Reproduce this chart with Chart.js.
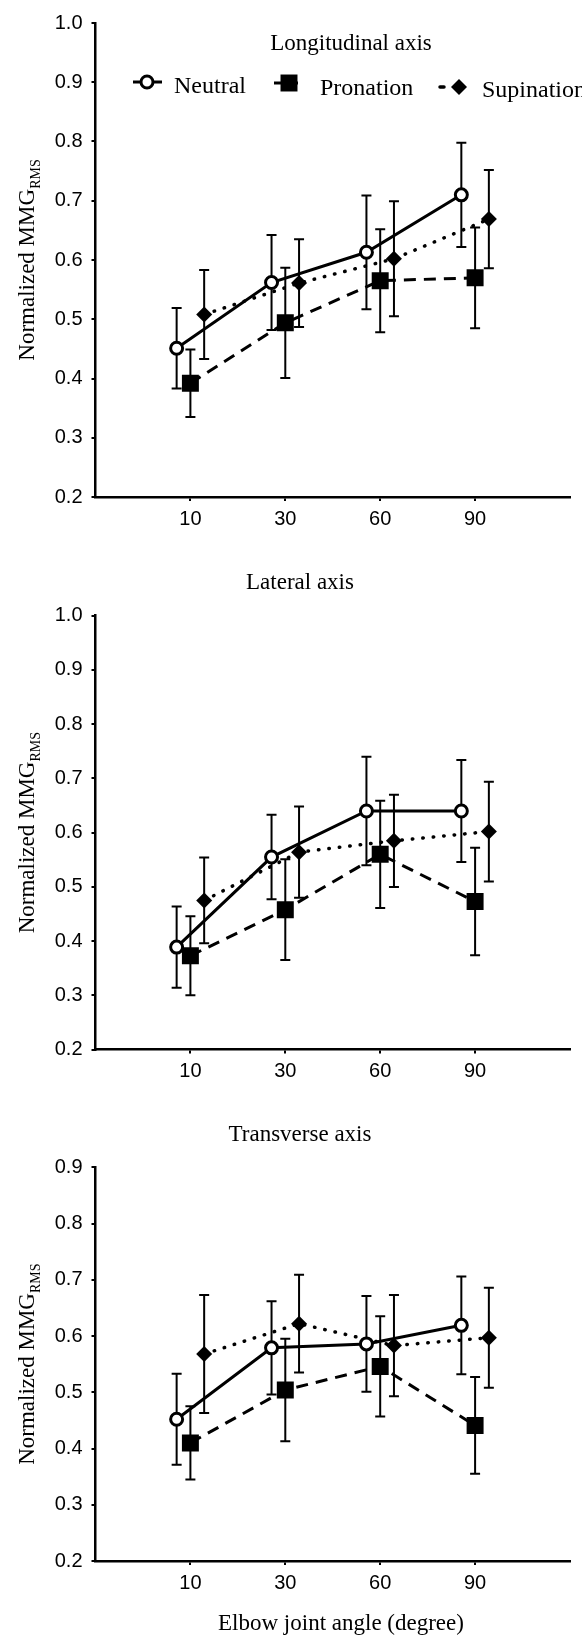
<!DOCTYPE html>
<html>
<head>
<meta charset="utf-8">
<script src="https://cdn.jsdelivr.net/npm/chart.js@4.4.0/dist/chart.umd.min.js"></script>
<style>
  html, body { margin: 0; padding: 0; background: #fff; }
  #wrap { position: relative; width: 582px; height: 1641px; overflow: hidden; }
  canvas { position: absolute; left: 0; }
</style>
</head>
<body>
<div id="wrap">
  <canvas id="c1" width="582" height="535" style="top:0"></canvas>
  <canvas id="c2" width="582" height="555" style="top:535px"></canvas>
  <canvas id="c3" width="582" height="551" style="top:1090px"></canvas>
</div>
<script>
// elbow angles (x categories) and y tick labels
const angles = ['10', '30', '60', '90'];
const yTicksFull = [0.2, 0.3, 0.4, 0.5, 0.6, 0.7, 0.8, 0.9, 1.0];
const yTicksShort = [0.2, 0.3, 0.4, 0.5, 0.6, 0.7, 0.8, 0.9];

// Longitudinal axis: means and SD
const longNeutral = [0.451, 0.562, 0.613, 0.710];
const longNeutralSd = [0.068, 0.080, 0.096, 0.088];
const longPronation = [0.392, 0.494, 0.565, 0.570];
const longPronationSd = [0.057, 0.093, 0.087, 0.085];
const longSupination = [0.508, 0.561, 0.602, 0.669];
const longSupinationSd = [0.075, 0.074, 0.097, 0.083];

// Lateral axis
const latNeutral = [0.389, 0.555, 0.640, 0.640];
const latNeutralSd = [0.075, 0.078, 0.100, 0.094];
const latPronation = [0.373, 0.458, 0.560, 0.473];
const latPronationSd = [0.073, 0.093, 0.099, 0.099];
const latSupination = [0.475, 0.564, 0.585, 0.602];
const latSupinationSd = [0.079, 0.084, 0.085, 0.092];

// Transverse axis
const transNeutral = [0.452, 0.579, 0.586, 0.619];
const transNeutralSd = [0.081, 0.083, 0.085, 0.087];
const transPronation = [0.410, 0.504, 0.546, 0.441];
const transPronationSd = [0.065, 0.091, 0.089, 0.086];
const transSupination = [0.568, 0.622, 0.583, 0.597];
const transSupinationSd = [0.105, 0.087, 0.090, 0.089];

const SANS = '"Liberation Sans", Arial, sans-serif';
const SERIF = '"Liberation Serif", "Times New Roman", serif';

// small sideways shift so the three groups don't overlap
const shift = { neutral: -0.145, pronation: 0, supination: 0.145 };

const styles = {
  neutral: {
    label: 'Neutral', borderColor: '#000', borderWidth: 3,
    pointStyle: 'circle', pointRadius: 6, pointBorderWidth: 3,
    pointBackgroundColor: '#fff', pointBorderColor: '#000'
  },
  pronation: {
    label: 'Pronation', borderColor: '#000', borderWidth: 3, borderDash: [12, 8],
    pointStyle: 'rect', pointRadius: 12, pointBorderWidth: 0,
    pointBackgroundColor: '#000', pointBorderColor: '#000'
  },
  supination: {
    label: 'Supination', borderColor: '#000', borderWidth: 3.5, borderDash: [0.5, 10],
    borderCapStyle: 'round',
    pointStyle: 'rectRot', pointRadius: 8, pointBorderWidth: 0,
    pointBackgroundColor: '#000', pointBorderColor: '#000'
  }
};

function series(key, means, sd) {
  return Object.assign({}, styles[key], {
    data: means.map((m, i) => ({ x: i + 1 + shift[key], y: m })),
    sd: sd,
    fill: false,
    tension: 0
  });
}

// vertical SD bars with caps, drawn under the lines and markers
const errorBars = {
  id: 'errorBars',
  beforeDatasetsDraw(chart) {
    const { ctx, scales: { x, y } } = chart;
    ctx.save();
    ctx.strokeStyle = '#000';
    ctx.lineWidth = 2;
    chart.data.datasets.forEach(ds => {
      ds.data.forEach((p, i) => {
        const px = x.getPixelForValue(p.x);
        const top = y.getPixelForValue(p.y + ds.sd[i]);
        const bot = y.getPixelForValue(p.y - ds.sd[i]);
        ctx.beginPath();
        ctx.moveTo(px, top); ctx.lineTo(px, bot);
        ctx.moveTo(px - 5, top); ctx.lineTo(px + 5, top);
        ctx.moveTo(px - 5, bot); ctx.lineTo(px + 5, bot);
        ctx.stroke();
      });
    });
    ctx.restore();
  }
};

// panel title, y label with subscript, legend and x title
const panelText = {
  id: 'panelText',
  afterDraw(chart, args, opts) {
    const { ctx, chartArea } = chart;
    ctx.save();
    ctx.fillStyle = '#000';
    ctx.textBaseline = 'alphabetic';

    (opts.texts || []).forEach(t => {
      ctx.font = t.size + 'px ' + SERIF;
      ctx.textAlign = t.align || 'center';
      ctx.fillText(t.text, t.x, t.y);
    });

    // Normalized MMG_RMS
    const main = 'Normalized MMG', sub = 'RMS';
    ctx.font = '23px ' + SERIF;
    const wMain = ctx.measureText(main).width;
    ctx.font = '14px ' + SERIF;
    const wSub = ctx.measureText(sub).width;
    ctx.save();
    ctx.translate(34, (chartArea.top + chartArea.bottom) / 2);
    ctx.rotate(-Math.PI / 2);
    ctx.textAlign = 'left';
    const start = -(wMain + wSub) / 2;
    ctx.font = '23px ' + SERIF;
    ctx.fillText(main, start, 0);
    ctx.font = '14px ' + SERIF;
    ctx.fillText(sub, start + wMain, 6);
    ctx.restore();

    if (opts.legend) {
      const drawPoint = Chart.helpers.drawPoint;
      opts.legend.forEach(item => {
        const st = styles[item.key];
        ctx.save();
        ctx.strokeStyle = '#000';
        ctx.lineWidth = st.borderWidth;
        ctx.lineCap = st.borderCapStyle || 'butt';
        ctx.setLineDash(item.dash || []);
        ctx.beginPath();
        ctx.moveTo(item.x0, item.my);
        ctx.lineTo(item.x1, item.my);
        ctx.stroke();
        ctx.setLineDash([]);
        ctx.fillStyle = st.pointBackgroundColor;
        ctx.strokeStyle = st.pointBorderColor;
        ctx.lineWidth = st.pointBorderWidth;
        drawPoint(ctx, {
          pointStyle: st.pointStyle, radius: st.pointRadius,
          borderWidth: st.pointBorderWidth, rotation: 0
        }, item.mx, item.my);
        ctx.restore();
        ctx.font = '24px ' + SERIF;
        ctx.textAlign = 'left';
        ctx.fillText(st.label, item.tx, item.ty);
      });
    }
    ctx.restore();
  }
};

function makePanel(id, sets, yTicks, padTop, xAxisH, textOpts) {
  return new Chart(document.getElementById(id), {
    type: 'line',
    data: { datasets: sets },
    plugins: [errorBars, panelText],
    options: {
      responsive: false,
      animation: false,
      layout: { padding: { top: padTop, left: 0, right: 0, bottom: 0 } },
      plugins: {
        legend: { display: false },
        tooltip: { enabled: false },
        panelText: textOpts
      },
      scales: {
        x: {
          type: 'linear',
          min: 0,
          max: 5,
          afterBuildTicks: s => { s.ticks = angles.map((a, i) => ({ value: i + 1 })); },
          afterFit: s => { s.height = xAxisH; },
          ticks: {
            callback: (v, i) => angles[i],
            font: { family: SANS, size: 20 },
            color: '#000',
            padding: 6,
            maxRotation: 0,
            autoSkip: false
          },
          grid: { drawOnChartArea: false, drawTicks: true, tickLength: 4, color: '#000', lineWidth: 2 },
          border: { display: true, color: '#000', width: 2.5 }
        },
        y: {
          min: yTicks[0],
          max: yTicks[yTicks.length - 1],
          afterBuildTicks: s => { s.ticks = yTicks.map(v => ({ value: v })); },
          afterFit: s => { s.width = 95.5; },
          ticks: {
            callback: v => v.toFixed(1),
            font: { family: SANS, size: 20 },
            color: '#000',
            padding: 9
          },
          grid: { drawOnChartArea: false, drawTicks: true, tickLength: 4, color: '#000', lineWidth: 2 },
          border: { display: true, color: '#000', width: 2.5 }
        }
      }
    }
  });
}

makePanel('c1', [
  series('neutral', longNeutral, longNeutralSd),
  series('pronation', longPronation, longPronationSd),
  series('supination', longSupination, longSupinationSd)
], yTicksFull, 23, 38, {
  texts: [{ text: 'Longitudinal axis', x: 351, y: 50, size: 23 }],
  legend: [
    { key: 'neutral', x0: 133, x1: 162, mx: 147, my: 82, tx: 174, ty: 93 },
    { key: 'pronation', x0: 274, x1: 298, mx: 289, my: 83, tx: 320, ty: 95 },
    { key: 'supination', x0: 440, x1: 444, mx: 459, my: 87, tx: 482, ty: 97 }
  ]
});

makePanel('c2', [
  series('neutral', latNeutral, latNeutralSd),
  series('pronation', latPronation, latPronationSd),
  series('supination', latSupination, latSupinationSd)
], yTicksFull, 80.7, 40.4, {
  texts: [{ text: 'Lateral axis', x: 300, y: 54, size: 23 }]
});

makePanel('c3', [
  series('neutral', transNeutral, transNeutralSd),
  series('pronation', transPronation, transPronationSd),
  series('supination', transSupination, transSupinationSd)
], yTicksShort, 77.3, 80, {
  texts: [
    { text: 'Transverse axis', x: 300, y: 51, size: 23 },
    { text: 'Elbow joint angle (degree)', x: 341, y: 540, size: 23 }
  ]
});
</script>
</body>
</html>
